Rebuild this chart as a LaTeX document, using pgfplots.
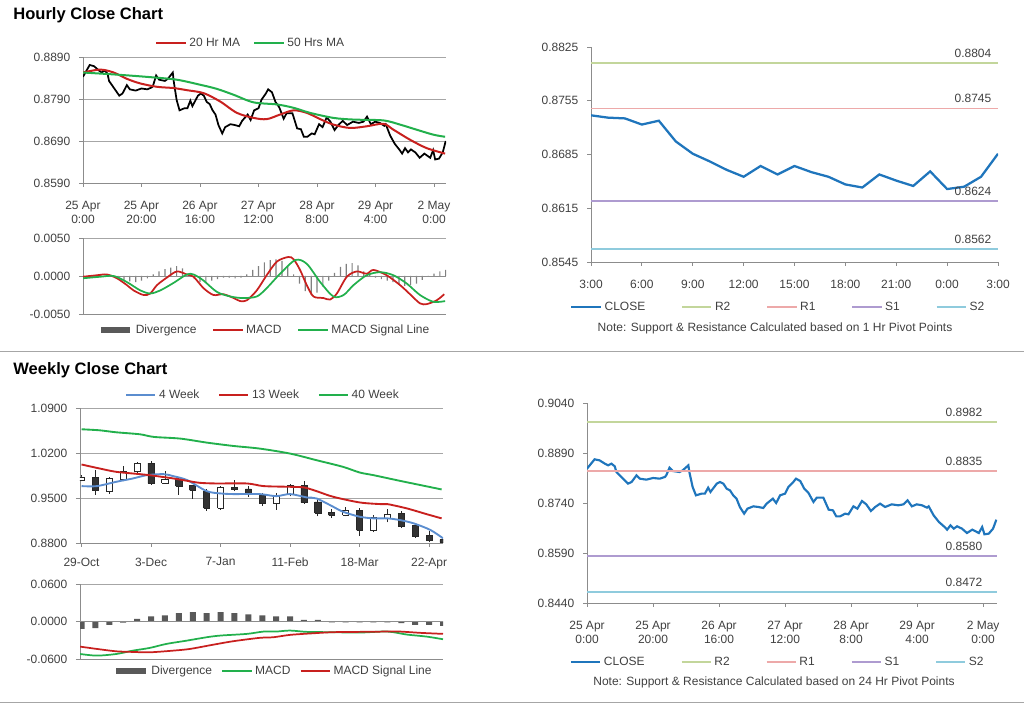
\documentclass[border=0pt]{standalone}
\usepackage{fontspec}
\setmainfont{Liberation Sans}
\usepackage{pgfplots}
\pgfplotsset{compat=1.18}
\usepackage{pgfplotstable}

\definecolor{maRed}{HTML}{C8201E}
\definecolor{maGreen}{HTML}{22B04C}
\definecolor{wkBlue}{HTML}{5B8DCF}
\definecolor{closeBlue}{HTML}{1F75BC}
\definecolor{rTwo}{HTML}{C3D69B}
\definecolor{rOne}{HTML}{EDA9A9}
\definecolor{sOne}{HTML}{AE9BD0}
\definecolor{sTwo}{HTML}{8FCBDD}
\definecolor{divGray}{HTML}{595959}
\definecolor{axGray}{HTML}{8C8C8C}
\definecolor{grGray}{HTML}{A6A6A6}
\definecolor{txt}{HTML}{404040}

\newcommand{\tf}{\fontsize{9}{10.5}\selectfont}

% one candle: x, body left, body right, body low, body high, low, high, fill
\newcommand{\candle}[8]{%
  \addplot[forget plot, draw=black!85, line width=0.6pt] coordinates {(#1,#6) (#1,#7)};
  \addplot[forget plot, draw=black!85, fill=#8, line width=0.6pt]
    coordinates {(#2,#4) (#3,#4) (#3,#5) (#2,#5) (#2,#4)};}

\pgfplotsset{
  panel/.style={
    scale only axis, anchor=south west, clip=true,
    axis lines*=left,
    axis line style={draw=axGray, line width=0.6pt},
    tick style={draw=axGray, line width=0.6pt},
    tick align=outside, major tick length=3pt,
    tick label style={font=\tf, text=txt},
    /pgf/number format/assume math mode=true,
    scaled y ticks=false,
    yticklabel style={/pgf/number format/fixed, /pgf/number format/fixed zerofill,
      /pgf/number format/precision=4, xshift=-3pt},
    grid style={draw=grGray, line width=0.5pt},
    legend style={draw=none, fill=none, font=\tf, text=txt},
    legend cell align=left,
    legend image code/.code={\draw[##1] (0pt,0pt) -- (22pt,0pt);},
  },
}

% hourly closes, 25 Apr 0:00 = 0 (trading hours)
\pgfplotstableread{
h c
0 0.8843
2.3 0.8871
3.8 0.8868
5.4 0.8858
6.4 0.8853
7.4 0.8858
8.4 0.8850
8.9 0.8833
10.4 0.8818
12.4 0.8798
13.5 0.8803
15 0.8823
16 0.8813
18 0.8810
20 0.8815
22 0.8813
23.6 0.8818
24 0.8823
25 0.8846
26 0.8836
28 0.8833
29 0.8838
30.7 0.8853
31 0.8833
32 0.8788
33 0.8763
34.7 0.8768
35.7 0.8768
36.7 0.8786
37.4 0.8773
39.3 0.8798
40.3 0.8803
41.3 0.8798
42.3 0.8783
43.3 0.8778
44.3 0.8763
45.3 0.8753
46.3 0.8728
47.6 0.8708
48.6 0.8723
50.4 0.8730
51.9 0.8728
53.4 0.8725
54.4 0.8738
56.3 0.8753
57.3 0.8740
58.5 0.8763
60 0.8768
61 0.8788
62.5 0.8803
63.3 0.8813
64.6 0.8806
65.8 0.8783
67.1 0.8770
68.6 0.8743
69.6 0.8756
71.6 0.8756
73.2 0.8720
74.5 0.8718
75.5 0.8700
76.7 0.8700
78.2 0.8708
79.2 0.8706
80.7 0.8730
81.9 0.8723
83.3 0.8746
84.6 0.8736
86 0.8716
87.3 0.8728
88.8 0.8738
90.3 0.8728
92.3 0.8736
94.3 0.8733
95.9 0.8736
97.1 0.8748
98.4 0.8730
99.9 0.8736
101.5 0.8733
103 0.8726
103.5 0.8730
105 0.8703
106.6 0.8683
108.1 0.8670
109.1 0.8660
110.1 0.8673
111.1 0.8663
112.1 0.8670
113.6 0.8663
115.1 0.8650
116.7 0.8660
118.7 0.8650
119.7 0.8668
120.4 0.8646
121.7 0.8648
123 0.8663
124 0.8690
}\hourly

\pgfplotstableread{
h v
0 0.8853
5.9 0.8860
10.5 0.8853
15 0.8838
19.6 0.8827
25.3 0.8819
31 0.8816
35.5 0.8811
41.2 0.8804
46.9 0.8784
52.6 0.8757
58.3 0.8745
62.8 0.8742
67.4 0.8753
72 0.8763
76.5 0.8757
81.1 0.8742
85.6 0.8729
91.3 0.8721
97 0.8725
102.7 0.8731
106.1 0.8717
111.8 0.8693
117.5 0.8673
123.8 0.8660
}\maTwenty

\pgfplotstableread{
h v
0 0.8853
11.6 0.8848
23 0.8842
32 0.8836
40 0.8824
45.8 0.8814
51.5 0.8800
58.3 0.8782
66.3 0.8777
72 0.8769
77.6 0.8757
85.6 0.8745
92.5 0.8741
102.7 0.8739
108.4 0.8729
114 0.8717
119.8 0.8705
123.8 0.8700
}\maFifty

\pgfplotstableread{
h v
0 -0.0001
4.8 0.0001
8.2 0.0002
11.6 -0.0003
15 -0.0012
17.3 -0.0019
20.7 -0.0025
23 -0.0023
25.3 -0.0012
28.7 -0.0002
32.1 0.0006
35.5 0.0002
37.8 -0.0001
41.2 -0.0016
44.6 -0.0025
48 -0.0024
51.5 -0.0029
53.7 -0.0033
56 -0.0032
59.4 -0.0019
62.8 0.0001
66.3 0.0019
70.2 0.0025
72 0.0022
74.2 0.0008
76.5 -0.0012
78.8 -0.0027
82.2 -0.0029
84.5 -0.0031
86.8 -0.0023
90.2 -0.0001
93.6 0.0006
97 0.0003
99.3 0.0008
103.8 0.0001
108.4 -0.0012
111.8 -0.0024
115.2 -0.0036
117.5 -0.0037
120.9 -0.0032
123.5 -0.0024
}\hMacd

\pgfplotstableread{
h v
0 -0.0003
5.9 -0.0001
10.5 0.0000
15 -0.0008
19.6 -0.0019
23 -0.0023
26.4 -0.0019
31 -0.0009
35.5 0.0002
37.8 0.0002
41.2 -0.0006
45.8 -0.0021
50.4 -0.0027
54.7 -0.0029
59.4 -0.0027
62.8 -0.0016
67.4 0.0003
72.6 0.0021
76.5 0.0016
81.1 -0.0008
85.6 -0.0027
89.1 -0.0025
92.5 -0.0012
97 0.0001
101.6 0.0005
106.1 0.0001
110.7 -0.0010
115.2 -0.0025
119.8 -0.0034
123.8 -0.0033
}\hSig

\pgfplotstableread{
h v
0 0.0001
2 0.0001
4 0.0001
6 0.0001
8 0.0001
10 0.0000
12 -0.0003
14 -0.0005
16 -0.0007
18 -0.0008
20 -0.0006
22 -0.0003
24 0.0002
26 0.0006
28 0.0009
30 0.0011
32 0.0013
34 0.0010
36 0.0002
38 -0.0004
40 -0.0008
42 -0.0009
44 -0.0006
46 -0.0004
48 -0.0002
50 -0.0002
52 -0.0003
54 -0.0002
56 0.0002
58 0.0008
60 0.0013
62 0.0018
64 0.0021
66 0.0022
68 0.0020
70 0.0012
72 0.0002
74 -0.0010
76 -0.0020
78 -0.0025
80 -0.0022
82 -0.0014
84 -0.0006
86 0.0004
88 0.0012
90 0.0016
92 0.0017
94 0.0014
96 0.0006
98 0.0003
100 -0.0002
102 -0.0004
104 -0.0006
106 -0.0008
108 -0.0011
110 -0.0013
112 -0.0012
114 -0.0010
116 -0.0005
118 -0.0001
120 0.0003
122 0.0006
124 0.0008
}\hDiv

% last 24 hours, 3:00 = 0
\pgfplotstableread{
h c
0 0.8736
1 0.8733
2 0.8732
3 0.8724
4 0.8729
5 0.8702
6 0.8686
7 0.8676
8 0.8665
9 0.8656
10 0.8670
11 0.8659
12 0.8670
13 0.8662
14 0.8656
15 0.8646
16 0.8642
17 0.8659
18 0.8651
19 0.8644
20 0.8663
21 0.8640
22 0.8643
23 0.8656
24 0.8686
}\dayClose

% weekly, 29-Oct = 0
\pgfplotstableread{
w v
0 0.9685
1.1 0.9685
2.5 0.9752
3.7 0.9804
4.7 0.9855
5.9 0.9871
6.6 0.9840
7.6 0.9778
9 0.9607
10 0.9571
10.9 0.9561
12.8 0.9561
14 0.9529
15 0.9561
16.2 0.9509
16.9 0.9493
18.1 0.9364
18.8 0.9286
20 0.9209
21 0.9183
22 0.9183
22.9 0.9157
23.9 0.9105
25.1 0.9002
26 0.8873
}\wkFour

\pgfplotstableread{
w v
0 1.0021
1.3 0.9959
2.5 0.9907
4.2 0.9871
4.9 0.9855
6.6 0.9804
7.6 0.9767
8.5 0.9736
9.7 0.9726
11.9 0.9726
13.1 0.9685
15 0.9674
16 0.9664
16.9 0.9607
18.1 0.9519
20 0.9431
21.5 0.9405
22 0.9405
23.4 0.9338
24.8 0.9250
25.9 0.9183
}\wkThirteen

\pgfplotstableread{
w v
0 1.0569
1.3 1.0553
2.5 1.0522
4.2 1.0491
5.2 1.0450
7.1 1.0424
9 1.0362
10.9 1.0310
12.8 1.0269
15 1.0191
16.9 1.0088
18.8 0.9985
20 0.9897
21 0.9855
22.9 0.9767
24.4 0.9700
25.9 0.9633
}\wkForty

\pgfplotstableread{
w v
-0.1 -0.0520
1.1 -0.0546
2.5 -0.0520
3.7 -0.0466
4.9 -0.0423
6.1 -0.0359
7.6 -0.0305
9 -0.0252
10 -0.0225
11.9 -0.0198
13.1 -0.0161
14 -0.0161
15 -0.0145
16.2 -0.0166
17.9 -0.0171
20 -0.0177
22 -0.0161
23.4 -0.0209
24.8 -0.0241
26 -0.0284
}\wMacd

\pgfplotstableread{
w v
-0.1 -0.0402
1.1 -0.0439
2.5 -0.0477
3.7 -0.0487
4.9 -0.0493
6.6 -0.0466
7.8 -0.0439
9.5 -0.0370
10.9 -0.0316
12.8 -0.0262
13.8 -0.0252
15 -0.0214
16.7 -0.0188
18.1 -0.0171
20 -0.0166
22 -0.0161
22.9 -0.0161
24.4 -0.0182
26 -0.0198
}\wSig

\pgfplotstableread{
w v
0 -0.0118
1 -0.0107
2 -0.0054
3 -0.0020
4 0.0043
5 0.0080
6 0.0096
7 0.0134
8 0.0150
9 0.0134
10 0.0150
11 0.0134
12 0.0112
13 0.0096
14 0.0080
15 0.0080
16 0.0027
17 0.0027
18 -0.0016
19 -0.0016
20 -0.0016
21 -0.0016
22 -0.0016
23 -0.0027
24 -0.0054
25 -0.0054
26 -0.0070
}\wDiv

\begin{document}
\begin{tikzpicture}

% ---------- hourly candles with moving averages
\begin{axis}[panel, at={(62.25pt,392.25pt)}, width=272.25pt, height=94.5pt,
  xmin=0, xmax=124.1, ymin=0.859, ymax=0.889,
  ytick={0.859,0.869,0.879,0.889}, ymajorgrids,
  xtick={0,20,...,120},
  xticklabels={{25 Apr\\0:00},{25 Apr\\20:00},{26 Apr\\16:00},{27 Apr\\12:00},{28 Apr\\8:00},{29 Apr\\4:00},{2 May\\0:00}},
  xticklabel style={align=center, yshift=-7pt},
  legend columns=2,
  legend style={at={(0.463,1.111)}, anchor=center,
    /tikz/every even column/.append style={column sep=8pt}},
]
\addplot[forget plot, black, line width=1.3pt] table[x=h, y=c] {\hourly};
\addplot[maRed, line width=1.5pt, smooth] table[x=h, y=v] {\maTwenty};
\addlegendentry{20 Hr MA}
\addplot[maGreen, line width=1.5pt, smooth] table[x=h, y=v] {\maFifty};
\addlegendentry{50 Hrs MA}
\end{axis}

% ---------- hourly MACD
\begin{axis}[panel, at={(62.25pt,294pt)}, width=272.25pt, height=57pt,
  xmin=0, xmax=124.1, ymin=-0.005, ymax=0.005,
  ytick={-0.005,0,0.005}, ymajorgrids, xtick=\empty,
  legend columns=3,
  legend style={at={(0.501,-0.21)}, anchor=center,
    /tikz/every even column/.append style={column sep=10pt}},
]
\addlegendimage{line width=4.5pt, divGray}
\addlegendentry{Divergence}
\addplot[forget plot, ybar, bar width=0.9pt, bar shift=0pt, fill=gray, draw=none] table[x=h, y=v] {\hDiv};
\draw[axGray, line width=0.6pt] (axis cs:0,0) -- (axis cs:124.1,0);
\addplot[maRed, line width=1.3pt, smooth] table[x=h, y=v] {\hMacd};
\addlegendentry{MACD}
\addplot[maGreen, line width=1.3pt, smooth] table[x=h, y=v] {\hSig};
\addlegendentry{MACD Signal Line}
\end{axis}

% ---------- last 24 hours with 1 hr pivots
\begin{axis}[panel, at={(443.25pt,333pt)}, width=305.25pt, height=161.25pt,
  xmin=0, xmax=24, ymin=0.8545, ymax=0.8825,
  ytick={0.8545,0.8615,0.8685,0.8755,0.8825},
  xtick={0,3,...,24}, xticklabels={3:00,6:00,9:00,12:00,15:00,18:00,21:00,0:00,3:00},
  xticklabel style={yshift=-7pt},
  legend columns=5,
  legend style={at={(0.461,-0.209)}, anchor=center,
    /tikz/every even column/.append style={column sep=25pt}},
]
\addplot[closeBlue, line width=1.7pt] table[x=h, y=c] {\dayClose};
\addlegendentry{CLOSE}
\addplot[rTwo, line width=1.3pt] coordinates {(0,0.8804) (24,0.8804)};
\addlegendentry{R2}
\addplot[rOne, line width=1.3pt] coordinates {(0,0.8745) (24,0.8745)};
\addlegendentry{R1}
\addplot[sOne, line width=1.3pt] coordinates {(0,0.8624) (24,0.8624)};
\addlegendentry{S1}
\addplot[sTwo, line width=1.3pt] coordinates {(0,0.8562) (24,0.8562)};
\addlegendentry{S2}
\node[anchor=south east, font=\tf, text=txt, xshift=-1.5pt, yshift=0.5pt] at (axis cs:24,0.8804) {0.8804};
\node[anchor=south east, font=\tf, text=txt, xshift=-1.5pt, yshift=0.5pt] at (axis cs:24,0.8745) {0.8745};
\node[anchor=south east, font=\tf, text=txt, xshift=-1.5pt, yshift=0.5pt] at (axis cs:24,0.8624) {0.8624};
\node[anchor=south east, font=\tf, text=txt, xshift=-1.5pt, yshift=0.5pt] at (axis cs:24,0.8562) {0.8562};
\end{axis}

% ---------- weekly candles with moving averages
\begin{axis}[panel, at={(60pt,122.25pt)}, width=272.25pt, height=101.25pt,
  xmin=-0.11, xmax=26.0, ymin=0.88, ymax=1.09,
  ytick={0.88,0.95,1.02,1.09}, ymajorgrids,
  xtick={0,5,...,25}, xticklabels={29-Oct,3-Dec,7-Jan,11-Feb,18-Mar,22-Apr},
  xticklabel style={yshift=-4.5pt},
  legend columns=3,
  legend style={at={(0.505,1.096)}, anchor=center,
    /tikz/every even column/.append style={column sep=12pt}},
]
\candle{0}{-0.22}{0.22}{0.9770}{0.9827}{0.9760}{0.9850}{white}
\candle{1}{0.78}{1.22}{0.9619}{0.9821}{0.9552}{0.9941}{black!80}
\candle{2}{1.78}{2.22}{0.9604}{0.9801}{0.9567}{0.9827}{white}
\candle{3}{2.78}{3.22}{0.9796}{0.9915}{0.9759}{1.0003}{white}
\candle{4}{3.78}{4.22}{0.9910}{1.0035}{0.9890}{1.0060}{white}
\candle{5}{4.78}{5.22}{0.9733}{1.0044}{0.9707}{1.0070}{black!80}
\candle{6}{5.78}{6.22}{0.9733}{0.9796}{0.9718}{0.9915}{white}
\candle{7}{6.78}{7.22}{0.9681}{0.9796}{0.9552}{0.9827}{black!80}
\candle{8}{7.78}{8.22}{0.9619}{0.9692}{0.9490}{0.9707}{black!80}
\candle{9}{8.78}{9.22}{0.9344}{0.9604}{0.9303}{0.9640}{black!80}
\candle{10}{9.78}{10.22}{0.9344}{0.9671}{0.9319}{0.9692}{white}
\candle{11}{10.78}{11.22}{0.9630}{0.9671}{0.9604}{0.9785}{black!80}
\candle{12}{11.78}{12.22}{0.9578}{0.9640}{0.9516}{0.9681}{black!80}
\candle{13}{12.78}{13.22}{0.9412}{0.9542}{0.9381}{0.9578}{black!80}
\candle{14}{13.78}{14.22}{0.9422}{0.9526}{0.9319}{0.9578}{white}
\candle{15}{14.78}{15.22}{0.9562}{0.9692}{0.9526}{0.9718}{white}
\candle{16}{15.78}{16.22}{0.9433}{0.9692}{0.9412}{0.9770}{black!80}
\candle{17}{16.78}{17.22}{0.9267}{0.9438}{0.9215}{0.9474}{black!80}
\candle{18}{17.78}{18.22}{0.9230}{0.9282}{0.9189}{0.9329}{black!80}
\candle{19}{18.78}{19.22}{0.9230}{0.9308}{0.9215}{0.9360}{white}
\candle{20}{19.78}{20.22}{0.8997}{0.9303}{0.8914}{0.9344}{black!80}
\candle{21}{20.78}{21.22}{0.8997}{0.9205}{0.8966}{0.9241}{white}
\candle{22}{21.78}{22.22}{0.9189}{0.9251}{0.9122}{0.9329}{white}
\candle{23}{22.78}{23.22}{0.9059}{0.9256}{0.9033}{0.9293}{black!80}
\candle{24}{23.78}{24.22}{0.8904}{0.9070}{0.8878}{0.9111}{black!80}
\candle{25}{24.78}{25.22}{0.8842}{0.8914}{0.8810}{0.8982}{black!80}
\candle{26}{25.78}{26.22}{0.8810}{0.8852}{0.8800}{0.8860}{black!80}
\addplot[wkBlue, line width=1.4pt, smooth] table[x=w, y=v] {\wkFour};
\addlegendentry{4 Week}
\addplot[maRed, line width=1.4pt, smooth] table[x=w, y=v] {\wkThirteen};
\addlegendentry{13 Week}
\addplot[maGreen, line width=1.4pt, smooth] table[x=w, y=v] {\wkForty};
\addlegendentry{40 Week}
\end{axis}

% ---------- weekly MACD
\begin{axis}[panel, at={(60pt,35.25pt)}, width=272.25pt, height=56.25pt,
  xmin=-0.11, xmax=26.0, ymin=-0.06, ymax=0.06,
  ytick={-0.06,0,0.06}, ymajorgrids, xtick=\empty,
  legend columns=3,
  legend style={at={(0.534,-0.16)}, anchor=center,
    /tikz/every even column/.append style={column sep=5pt}},
]
\addlegendimage{line width=4.5pt, divGray}
\addlegendentry{Divergence}
\addplot[forget plot, ybar, bar width=4.5pt, bar shift=0pt, fill=divGray, draw=none] table[x=w, y=v] {\wDiv};
\draw[axGray, line width=0.6pt] (axis cs:-0.11,0) -- (axis cs:26,0);
\addplot[maGreen, line width=1.3pt, smooth] table[x=w, y=v] {\wMacd};
\addlegendentry{MACD}
\addplot[maRed, line width=1.3pt, smooth] table[x=w, y=v] {\wSig};
\addlegendentry{MACD Signal Line}
\end{axis}

% ---------- hourly close with 24 hr pivots
\begin{axis}[panel, at={(440.25pt,77.25pt)}, width=307.5pt, height=150pt,
  xmin=0, xmax=124.2, ymin=0.844, ymax=0.904,
  ytick={0.844,0.859,0.874,0.889,0.904},
  xtick={0,20,...,120},
  xticklabels={{25 Apr\\0:00},{25 Apr\\20:00},{26 Apr\\16:00},{27 Apr\\12:00},{28 Apr\\8:00},{29 Apr\\4:00},{2 May\\0:00}},
  xticklabel style={align=center, yshift=-7pt},
  legend columns=5,
  legend style={at={(0.466,-0.295)}, anchor=center,
    /tikz/every even column/.append style={column sep=25pt}},
]
\addplot[closeBlue, line width=1.6pt] table[x=h, y=c] {\hourly};
\addlegendentry{CLOSE}
\addplot[rTwo, line width=1.3pt] coordinates {(0,0.8982) (124.2,0.8982)};
\addlegendentry{R2}
\addplot[rOne, line width=1.3pt] coordinates {(0,0.8835) (124.2,0.8835)};
\addlegendentry{R1}
\addplot[sOne, line width=1.3pt] coordinates {(0,0.8580) (124.2,0.8580)};
\addlegendentry{S1}
\addplot[sTwo, line width=1.3pt] coordinates {(0,0.8472) (124.2,0.8472)};
\addlegendentry{S2}
\node[anchor=south east, font=\tf, text=txt, xshift=-7.5pt, yshift=0.5pt] at (axis cs:124.2,0.8982) {0.8982};
\node[anchor=south east, font=\tf, text=txt, xshift=-7.5pt, yshift=0.5pt] at (axis cs:124.2,0.8835) {0.8835};
\node[anchor=south east, font=\tf, text=txt, xshift=-7.5pt, yshift=0.5pt] at (axis cs:124.2,0.8580) {0.8580};
\node[anchor=south east, font=\tf, text=txt, xshift=-7.5pt, yshift=0.5pt] at (axis cs:124.2,0.8472) {0.8472};
\end{axis}

% ---------- titles, notes, separators
\node[anchor=west, font=\fontsize{12.4}{14}\selectfont\bfseries] at (6.5pt,518.25pt) {Hourly Close Chart};
\node[anchor=west, font=\fontsize{12.4}{14}\selectfont\bfseries] at (6.5pt,252pt) {Weekly Close Chart};
\node[font=\tf, text=txt] at (581.25pt,283.5pt) {Note: Support \& Resistance Calculated based on 1 Hr Pivot Points};
\node[font=\tf, text=txt] at (580.5pt,18pt) {Note: Support \& Resistance Calculated based on 24 Hr Pivot Points};
\draw[grGray, line width=0.75pt] (0pt,265.5pt) -- (768pt,265.5pt);
\draw[grGray, line width=0.75pt] (0pt,2.25pt) -- (768pt,2.25pt);

\pgfresetboundingbox
\path[use as bounding box] (0pt,0pt) rectangle (768pt,529.5pt);
\end{tikzpicture}
\end{document}
